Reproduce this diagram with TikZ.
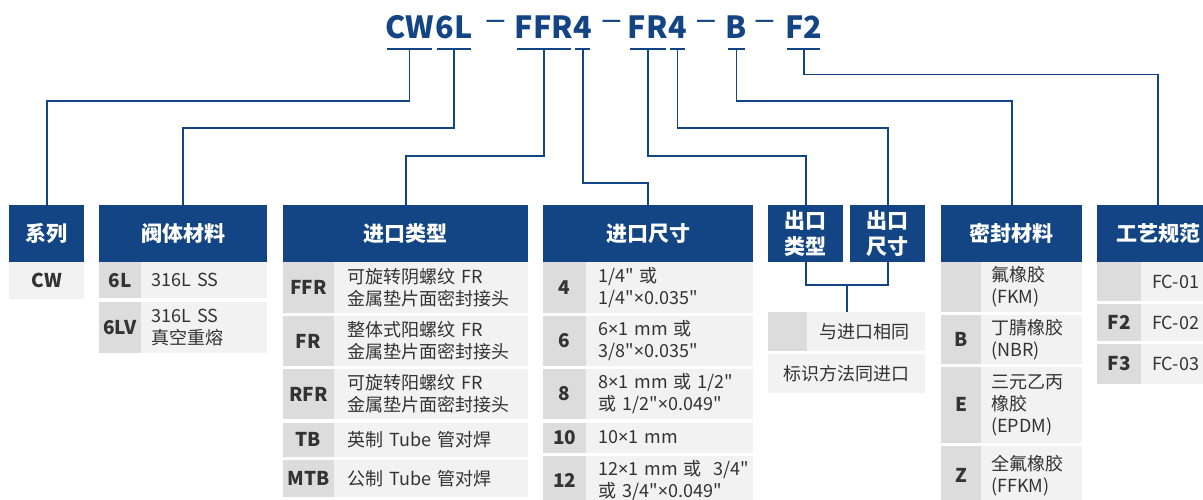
\documentclass[tikz,border=0pt]{standalone}
\usepackage{fontspec}
\setmainfont{Noto Sans CJK SC}[Ligatures=TeXOff]
\newfontfamily\latinfont{Noto Sans}
\newfontfamily\dashfont{Liberation Sans}
\newcommand{\tms}{{\latinfont ×}}
\usetikzlibrary{positioning}
\definecolor{hdrblue}{HTML}{134585}
\definecolor{codegray}{HTML}{DCDCDC}
\definecolor{descgray}{HTML}{F2F2F2}
\definecolor{txtgray}{HTML}{333333}

\begin{document}
\begin{tikzpicture}[x=1pt,y=-1pt]

\tikzset{hdr/.style = {anchor=north west, fill=hdrblue, text=white, inner sep=0, minimum height=56.7, align=center, font=\bfseries\fontsize{21}{25.7}\selectfont}}
\tikzset{code/.style = {anchor=north west, fill=codegray, text=txtgray, inner sep=0, font=\bfseries\fontsize{19}{23}\selectfont}}
\tikzset{desc/.style = {anchor=north west, fill=descgray, text=txtgray, inner ysep=0, inner xsep=11, align=left, font=\fontsize{18}{22}\selectfont}}
\tikzset{part/.style = {anchor=base west, inner sep=0, text=hdrblue, text height=22, text depth=10.5, font=\bfseries\fontsize{30.5}{33}\selectfont}}
\tikzset{hyph/.style = {inner sep=0, text=hdrblue, font=\dashfont\fontsize{32}{34}\selectfont}}
\tikzset{bar/.style = {hdrblue, line width=1.6}}
\tikzset{link/.style = {hdrblue, line width=1.6}}

\useasboundingbox (0,0) rectangle (1203,499);
\clip (0,0) rectangle (1203,499);

%model code
\node[part] (pCW) at (385,38.5) {CW};
\node[part, xshift=1.5] (p6L) at (pCW.base east) {6L};
\node[hyph] (d1) at (495.5,24.5) {–};
\node[part] (pFFR) at (514.5,38.5) {FFR};
\node[part] (pIn4) at (pFFR.base east) {4};
\node[hyph] (d2) at (611.5,24.5) {–};
\node[part] (pFR) at (627.5,38.5) {FR};
\node[part] (pOut4) at (pFR.base east) {4};
\node[hyph] (d3) at (706,24.5) {–};
\node[part] (pB) at (725.5,38.5) {B};
\node[hyph] (d4) at (764.5,24.5) {–};
\node[part] (pF2) at (785,38.5) {F2};
\foreach \p in {pCW,p6L,pFFR,pIn4,pFR,pOut4,pB,pF2}
  \draw[bar] ([xshift=2]\p.south west) -- ([xshift=-2]\p.south east);

%headers
\node[hdr, minimum width=75] (hSer) at (9,205) {系列};
\node[hdr, minimum width=168] (hBody) at (99,205) {阀体材料};
\node[hdr, minimum width=245] (hInT) at (283,205) {进口类型};
\node[hdr, minimum width=210] (hInS) at (543,205) {进口尺寸};
\node[hdr, minimum width=75] (hOutT) at (768,205) {出口\\类型};
\node[hdr, minimum width=75] (hOutS) at (850,205) {出口\\尺寸};
\node[hdr, minimum width=141] (hSeal) at (941,205) {密封材料};
\node[hdr, minimum width=122] (hSpec) at (1097,205) {工艺规范};

%series
\node[code, fill=descgray, minimum width=75, minimum height=37] (sCW) at (9,262) {CW};

%body material
\node[code, minimum width=41.5, minimum height=35.7] (b6L) at (99,262) {6L};
\node[desc, text width=104.5, minimum height=35.7] (b6Ld) at (140.5,262) {316L SS};
\node[code, minimum width=41.5, minimum height=51] (b6LV) at (99,301.7) {6LV};
\node[desc, text width=104.5, minimum height=51] (b6LVd) at (140.5,301.7) {316L SS\\真空重熔};

%inlet type
\node[code, minimum width=50.3, minimum height=51] (iFFR) at (283,261.7) {FFR};
\node[desc, inner xsep=14, text width=166, minimum height=51] (iFFRd) at (333.3,261.7) {可旋转阴螺纹 FR\\金属垫片面密封接头};
\node[code, minimum width=50.3, minimum height=49.7] (iFR) at (283,316) {FR};
\node[desc, inner xsep=14, text width=166, minimum height=49.7] (iFRd) at (333.3,316) {整体式阳螺纹 FR\\金属垫片面密封接头};
\node[code, minimum width=50.3, minimum height=49.7] (iRFR) at (283,369) {RFR};
\node[desc, inner xsep=14, text width=166, minimum height=49.7] (iRFRd) at (333.3,369) {可旋转阳螺纹 FR\\金属垫片面密封接头};
\node[code, minimum width=50.3, minimum height=34.4] (iTB) at (283,422.3) {TB};
\node[desc, inner xsep=14, text width=166, minimum height=34.4] (iTBd) at (333.3,422.3) {英制 Tube 管对焊};
\node[code, minimum width=50.3, minimum height=36.7] (iMTB) at (283,460) {MTB};
\node[desc, inner xsep=14, text width=166, minimum height=36.7] (iMTBd) at (333.3,460) {公制 Tube 管对焊};

%inlet size
\node[code, minimum width=43, minimum height=51] (z4) at (543,261.7) {4};
\node[desc, inner xsep=12, text width=143, minimum height=51] (z4d) at (586,261.7) {1/4" 或\\1/4"\tms0.035"};
\node[code, minimum width=43, minimum height=49.7] (z6) at (543,316) {6};
\node[desc, inner xsep=12, text width=143, minimum height=49.7] (z6d) at (586,316) {6\tms1 mm 或\\3/8"\tms0.035"};
\node[code, minimum width=43, minimum height=49.7] (z8) at (543,369) {8};
\node[desc, inner xsep=12, text width=143, minimum height=49.7] (z8d) at (586,369) {8\tms1~mm~或~1/2"\\或~1/2"\tms0.049"};
\node[code, minimum width=43, minimum height=30] (z10) at (543,422.3) {10};
\node[desc, inner xsep=12, text width=143, minimum height=30] (z10d) at (586,422.3) {10\tms1 mm};
\node[code, minimum width=43, minimum height=50] (z12) at (543,455.7) {12};
\node[desc, inner xsep=12, text width=143, minimum height=50] (z12d) at (586,455.7) {12\tms1~mm~或~~3/4"\\或~3/4"\tms0.049"};

%outlet
\node[code, minimum width=39, minimum height=39.3] (oSame) at (768,311.7) {};
\node[desc, inner xsep=12, text width=94, minimum height=39.3] (oSamed) at (807,311.7) {与进口相同};
\node[desc, align=center, text width=135, minimum height=38.3] (oNote) at (768,354) {标识方法同进口};

%seal material
\node[code, minimum width=40, minimum height=50] (mFKM) at (941,261.7) {};
\node[desc, inner xsep=10, text width=81, minimum height=50] (mFKMd) at (981,261.7) {氟橡胶\\(FKM)};
\node[code, minimum width=40, minimum height=48.3] (mB) at (941,315) {B};
\node[desc, inner xsep=10, text width=81, minimum height=48.3] (mBd) at (981,315) {丁腈橡胶\\(NBR)};
\node[code, minimum width=40, minimum height=76] (mE) at (941,366.7) {E};
\node[desc, inner xsep=10, text width=81, minimum height=76] (mEd) at (981,366.7) {三元乙丙\\橡胶\\(EPDM)};
\node[code, minimum width=40, minimum height=58] (mZ) at (941,446) {Z};
\node[desc, inner xsep=10, text width=81, minimum height=58] (mZd) at (981,446) {全氟橡胶\\(FFKM)};

%process spec
\node[code, minimum width=44, minimum height=39] (fF1) at (1097,261.7) {};
\node[desc, text width=58, minimum height=39] (fF1d) at (1141,261.7) {FC-01};
\node[code, minimum width=44, minimum height=36.7] (fF2) at (1097,304) {F2};
\node[desc, text width=58, minimum height=36.7] (fF2d) at (1141,304) {FC-02};
\node[code, minimum width=44, minimum height=39.3] (fF3) at (1097,344) {F3};
\node[desc, text width=58, minimum height=39.3] (fF3d) at (1141,344) {FC-03};

%links
\draw[link] (pCW.south) -- (pCW.south |- 0,100.7) -| (hSer.north);
\draw[link] (p6L.south) -- (p6L.south |- 0,127.7) -| (hBody.north);
\draw[link] (pFFR.south) -- (pFFR.south |- 0,155.7) -| (hInT.north);
\draw[link] (pIn4.south) -- (pIn4.south |- 0,183) -| (hInS.north);
\draw[link] (pFR.south) -- (pFR.south |- 0,155.7) -| (hOutT.north);
\draw[link] (pOut4.south) -- (pOut4.south |- 0,127.7) -| (hOutS.north);
\draw[link] (pB.south) -- (pB.south |- 0,100.7) -| (hSeal.north);
\draw[link] (pF2.south) -- (pF2.south |- 0,74.3) -| (hSpec.north);
\draw[link] (hOutT.south) -- (hOutT.south |- 0,285) -| (hOutS.south);
\draw[link] (oNote.north |- 0,285) -- (oNote.north |- oSame.north);

\end{tikzpicture}
\end{document}
